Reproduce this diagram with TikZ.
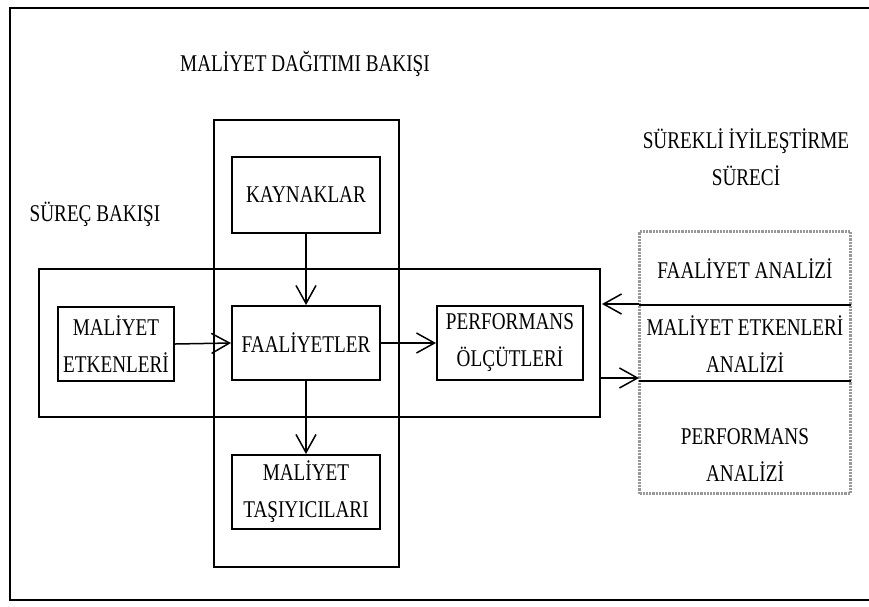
\documentclass[tikz,border=0pt]{standalone}
\usepackage{fontspec}
\setmainfont[FakeStretch=0.8]{Liberation Serif}
\usetikzlibrary{arrows.meta}
\begin{document}
\begin{tikzpicture}[x=1pt,y=-1pt,
  font=\fontsize{24}{37}\selectfont,
  box/.style={draw,line width=2pt,inner sep=0pt,align=center},
  frame/.style={draw,line width=2pt},
  arr/.style={line width=1.5pt,-{Straight Barb[length=18pt,width=20pt,line width=1.5pt]}},
  lbl/.style={inner sep=0pt,align=center}]
\useasboundingbox (0,0) rectangle (869,606);
% outer frame, open to the right
\draw[frame] (880,8) -- (10,8) -- (10,600) -- (880,600);
% the two views
\node[box,minimum width=185pt,minimum height=447pt] (col) at (306.5,343.5) {};
\node[box,minimum width=561pt,minimum height=148pt] (row) at (319.5,343) {};
% boxes
\node[box,fill=white,minimum width=148pt,minimum height=76pt] (kay) at (306,195) {KAYNAKLAR};
\node[box,fill=white,minimum width=148pt,minimum height=74pt] (faa) at (306,343) {FAALİYETLER};
\node[box,fill=white,minimum width=116pt,minimum height=74pt] (met) at (116,344) {MALİYET\\ETKENLERİ};
\node[box,fill=white,minimum width=146pt,minimum height=74pt] (perf) at (510,343) {PERFORMANS\\ÖLÇÜTLERİ};
\node[box,fill=white,minimum width=148pt,minimum height=74pt] (tas) at (306,492) {MALİYET\\TAŞIYICILARI};
% continuous improvement panel
\node[draw=gray!80,line width=2.2pt,densely dotted,inner sep=0pt,minimum width=211pt,minimum height=262pt] (panel) at (745,362.5) {};
\coordinate (d1w) at (639,305);
\coordinate (d1e) at (851,305);
\coordinate (d2w) at (639,380.5);
\coordinate (d2e) at (851,380.5);
\draw[line width=2pt] (d1w) -- (d1e);
\draw[line width=2pt] (d2w) -- (d2e);
\node[lbl] (fa) at (745,269) {FAALİYET ANALİZİ};
\node[lbl] (mea) at (745,344) {MALİYET ETKENLERİ\\ANALİZİ};
\node[lbl] (pa) at (745,455) {PERFORMANS\\ANALİZİ};
% titles
\node[lbl] (t1) at (305,64) {MALİYET DAĞITIMI BAKIŞI};
\node[lbl] (t2) at (95,214) {SÜREÇ BAKIŞI};
\node[lbl] (t3) at (746,157) {SÜREKLİ İYİLEŞTİRME\\SÜRECİ};
% connectors
\draw[arr] (kay.south) -- (faa.north);
\draw[arr] (faa.south) -- (tas.north);
\draw[arr] (met.east) -- (faa.west);
\draw[arr] (faa.east) -- (perf.west);
\coordinate (u1) at (639,304);
\coordinate (u2) at (602,304);
\coordinate (l1) at (601,378);
\coordinate (l2) at (639,378);
\draw[arr] (u1) -- (u2);
\draw[arr] (l1) -- (l2);
\end{tikzpicture}
\end{document}
